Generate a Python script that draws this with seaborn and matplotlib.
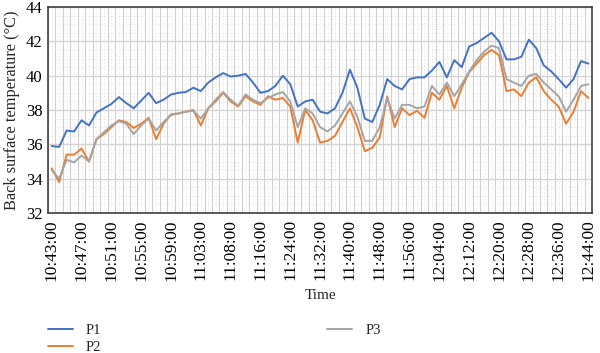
import numpy as np
import pandas as pd
import matplotlib
matplotlib.use("Agg")
import matplotlib.pyplot as plt
import seaborn as sns

# x axis: one category per reading, a label every 4th reading
tick_labels = ["10:43:00", "10:47:00", "10:51:00", "10:55:00", "10:59:00",
               "11:03:00", "11:08:00", "11:16:00", "11:24:00", "11:32:00",
               "11:40:00", "11:48:00", "11:56:00", "12:04:00", "12:12:00",
               "12:20:00", "12:28:00", "12:36:00", "12:44:00"]

p1 = [35.9, 35.85, 36.8, 36.75, 37.4, 37.1, 37.85, 38.1, 38.35, 38.75,
      38.4, 38.1, 38.55, 39.0, 38.4, 38.6, 38.9, 39.0, 39.05, 39.3,
      39.1, 39.6, 39.9, 40.15, 39.95, 40.0, 40.1, 39.6, 39.0, 39.1,
      39.4, 40.0, 39.5, 38.2, 38.5, 38.6, 37.9, 37.8, 38.1, 39.0,
      40.35, 39.3, 37.5, 37.3, 38.3, 39.8, 39.4, 39.2, 39.8, 39.9,
      39.9, 40.3, 40.8, 39.9, 40.9, 40.5, 41.7, 41.9, 42.2, 42.5,
      42.0, 40.95, 40.95, 41.1, 42.1, 41.6, 40.6, 40.25, 39.8, 39.3,
      39.8, 40.85, 40.7]

p2 = [34.6, 33.8, 35.4, 35.4, 35.75, 35.0, 36.3, 36.6, 37.0, 37.4,
      37.3, 36.95, 37.2, 37.55, 36.3, 37.2, 37.75, 37.8, 37.9, 38.0,
      37.1, 38.1, 38.5, 39.0, 38.5, 38.2, 38.8, 38.5, 38.3, 38.8,
      38.6, 38.7, 38.2, 36.1, 38.0, 37.4, 36.1, 36.2, 36.5, 37.3,
      38.1, 37.0, 35.6, 35.8, 36.4, 38.8, 37.0, 38.1, 37.7, 37.95,
      37.55, 39.0, 38.6, 39.4, 38.1, 39.3, 40.2, 40.7, 41.2, 41.5,
      41.2, 39.1, 39.2, 38.8, 39.6, 39.9, 39.1, 38.6, 38.2, 37.2,
      37.9, 39.1, 38.7]

p3 = [34.5, 34.0, 35.1, 34.95, 35.35, 35.0, 36.3, 36.7, 37.1, 37.35,
      37.2, 36.6, 37.1, 37.5, 36.8, 37.3, 37.7, 37.8, 37.9, 37.95,
      37.5, 38.1, 38.6, 39.05, 38.6, 38.25, 38.9, 38.6, 38.4, 38.7,
      38.9, 39.05, 38.5, 37.0, 38.1, 37.8, 37.0, 36.75, 37.1, 37.8,
      38.5, 37.6, 36.2, 36.2, 37.0, 38.7, 37.5, 38.3, 38.3, 38.1,
      38.2, 39.4, 38.9, 39.6, 38.8, 39.5, 40.25, 40.9, 41.4, 41.75,
      41.6, 39.8, 39.6, 39.4, 40.0, 40.1, 39.6, 39.2, 38.8, 37.9,
      38.6, 39.4, 39.5]

series_names = ["P1", "P2", "P3"]
colors = ["#4472C4", "#ED7D31", "#A5A5A5"]

n = len(p1)
df = pd.DataFrame({
    "step": np.tile(np.arange(n), 3),
    "temp": p1 + p2 + p3,
    "series": np.repeat(series_names, n),
})

sns.set_theme(style="white")
plt.rcParams["font.family"] = ["Liberation Serif", "DejaVu Serif"]

fig = plt.figure(figsize=(6, 3.53), dpi=100)
ax = fig.add_axes([0.08, 1 - 213 / 353, 0.907, 206 / 353])

sns.lineplot(data=df, x="step", y="temp", hue="series",
             palette=dict(zip(series_names, colors)), linewidth=1.4,
             ax=ax, legend=False)

ax.set_xlim(-0.5, n - 0.5)
ax.set_ylim(32, 44)
ax.set_yticks(range(32, 45, 2))
ax.set_yticks(np.arange(32, 44.01, 0.5), minor=True)
ax.set_xticks(np.arange(0, n, 4))
ax.set_xticklabels(tick_labels, rotation=90)
ax.set_xticks(np.arange(-0.5, n, 1), minor=True)

ax.grid(which="major", axis="y", color="#d4d4d4", linewidth=1.0)
ax.grid(which="minor", axis="y", color="#d9d9d9", linewidth=0.6, linestyle=(0, (1, 3)))
ax.grid(which="minor", axis="x", color="#cfcfcf", linewidth=0.8)
ax.vlines(np.arange(n), 32, 44, colors="#d9d9d9", linewidth=0.6,
          linestyles=(0, (1, 3)), zorder=0)
ax.set_axisbelow(True)

for s in ax.spines.values():
    s.set_color("#404040")
    s.set_linewidth(1.2)

ax.tick_params(which="both", length=0, colors="black")
ax.tick_params(axis="y", labelsize=12, pad=4)
ax.tick_params(axis="x", labelsize=12.5, pad=4.5)

ax.set_xlabel("Time", fontsize=11, labelpad=6)
ax.set_ylabel("Back surface temperature (°C)", fontsize=11.8, labelpad=4)

handles = ax.get_lines()[:3]
fig.legend(handles, series_names, ncol=2, loc="upper left",
           bbox_to_anchor=(48 / 600, 1 - 324 / 353), frameon=False,
           handlelength=1.7, handletextpad=0.9, columnspacing=15.5,
           labelspacing=0.25, borderpad=0, borderaxespad=0, fontsize=10.5)

fig.savefig("out.png", dpi=100)
